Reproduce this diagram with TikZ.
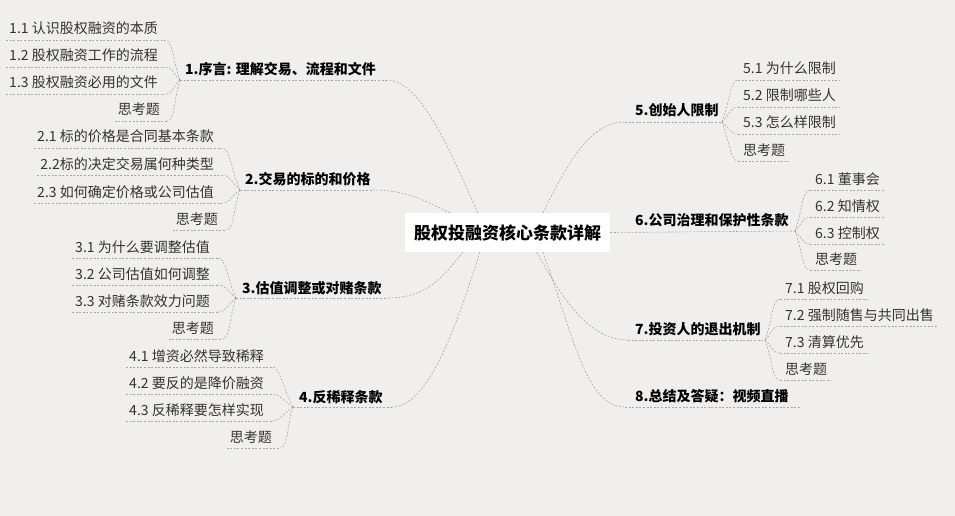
\documentclass[tikz,border=0pt]{standalone}
\usepackage{fontspec}
\setmainfont{Noto Sans CJK SC}
\usetikzlibrary{calc}
\definecolor{bgc}{HTML}{F1EFED}
\definecolor{lnc}{HTML}{A8A8A8}
\definecolor{txc}{HTML}{333333}
\tikzset{
  conn/.style={draw=lnc, line width=0.6pt, dash pattern=on 2pt off 1.6pt},
  leaf/.style={font=\fontsize{14}{14}\selectfont, text=txc, inner sep=0pt},
  branch/.style={font=\bfseries\fontsize{14}{14}\selectfont, text=black, inner sep=0pt},
  rootbox/.style={fill=white, font=\bfseries\fontsize{17}{17}\selectfont, text=black,
    minimum width=205pt, minimum height=39pt, inner sep=0pt},
}
\begin{document}
\begin{tikzpicture}[x=1pt,y=-1pt]
\fill[bgc] (0,0) rectangle (955,516);
\useasboundingbox (0,0) rectangle (955,516);

% root
\node[rootbox] (root) at (507.5,232.5) {股权投融资核心条款详解};
\coordinate (r1) at ([xshift=73pt]root.north west);
\coordinate (r2) at ([xshift=45pt]root.north west);
\coordinate (r5) at ([xshift=138pt]root.north west);
\coordinate (r6) at (root.east);
\coordinate (r3) at ([xshift=58pt]root.south west);
\coordinate (r4) at ([xshift=75pt]root.south west);
\coordinate (r7) at ([xshift=132pt]root.south west);
\coordinate (r8) at ([xshift=138pt]root.south west);

% ---------- branch 1
\node[branch, anchor=base west] (m1) at (185,75) {1.序言: 理解交易、流程和文件};
\coordinate (b1) at (180,80);
\coordinate (e1) at (387,80);
\draw[conn] (b1) -- (e1);
\draw[conn] (r1) .. controls +(-25,-55) and +(35,0) .. (e1);
\node[leaf, anchor=base east] (n11) at (158,34) {1.1 认识股权融资的本质};
\node[leaf, anchor=base east] (n12) at (158,61) {1.2 股权融资工作的流程};
\node[leaf, anchor=base east] (n13) at (158,88) {1.3 股权融资必用的文件};
\node[leaf, anchor=base east] (n14) at (160,115) {思考题};
\foreach \n in {n11,n12,n13,n14}{
  \draw[conn] ([xshift=-3pt,yshift=-6pt]\n.base west) -- ([xshift=7pt,yshift=-6pt]\n.base east) coordinate (u\n);
  \draw[conn] (b1) .. controls ($(b1)!0.5!(u\n)$) and +(8,0) .. (u\n);
}

% ---------- branch 2
\node[branch, anchor=base west] (m2) at (245,184) {2.交易的标的和价格};
\coordinate (b2) at (240,190);
\coordinate (e2) at (372,190);
\draw[conn] (b2) -- (e2);
\draw[conn] (r2) .. controls +(-25,-12) and +(35,0) .. (e2);
\node[leaf, anchor=base east] (n21) at (214,142) {2.1 标的价格是合同基本条款};
\node[leaf, anchor=base east] (n22) at (214,169) {2.2标的决定交易属何种类型};
\node[leaf, anchor=base east] (n23) at (214,197) {2.3 如何确定价格或公司估值};
\node[leaf, anchor=base east] (n24) at (218,224) {思考题};
\foreach \n in {n21,n22,n23,n24}{
  \draw[conn] ([xshift=-3pt,yshift=-6pt]\n.base west) -- ([xshift=8pt,yshift=-6pt]\n.base east) coordinate (u\n);
  \draw[conn] (b2) .. controls ($(b2)!0.5!(u\n)$) and +(8,0) .. (u\n);
}

% ---------- branch 3
\node[branch, anchor=base west] (m3) at (242,293) {3.估值调整或对赌条款};
\coordinate (b3) at (236,298);
\coordinate (e3) at (387,298);
\draw[conn] (b3) -- (e3);
\draw[conn] (r3) .. controls +(-20,25) and +(40,0) .. (e3);
\node[leaf, anchor=base east] (n31) at (210,252) {3.1 为什么要调整估值};
\node[leaf, anchor=base east] (n32) at (210,279) {3.2 公司估值如何调整};
\node[leaf, anchor=base east] (n33) at (210,306) {3.3 对赌条款效力问题};
\node[leaf, anchor=base east] (n34) at (214,333) {思考题};
\foreach \n in {n31,n32,n33,n34}{
  \draw[conn] ([xshift=-3pt,yshift=-6pt]\n.base west) -- ([xshift=8pt,yshift=-6pt]\n.base east) coordinate (u\n);
  \draw[conn] (b3) .. controls ($(b3)!0.5!(u\n)$) and +(8,0) .. (u\n);
}

% ---------- branch 4
\node[branch, anchor=base west] (m4) at (299,402) {4.反稀释条款};
\coordinate (b4) at (293,407);
\coordinate (e4) at (392,407);
\draw[conn] (b4) -- (e4);
\draw[conn] (r4) .. controls +(-25,80) and +(35,0) .. (e4);
\node[leaf, anchor=base east] (n41) at (264,361) {4.1 增资必然导致稀释};
\node[leaf, anchor=base east] (n42) at (264,388) {4.2 要反的是降价融资};
\node[leaf, anchor=base east] (n43) at (264,415) {4.3 反稀释要怎样实现};
\node[leaf, anchor=base east] (n44) at (272,442) {思考题};
\foreach \n in {n41,n42,n43,n44}{
  \draw[conn] ([xshift=-3pt,yshift=-6pt]\n.base west) -- ([xshift=8pt,yshift=-6pt]\n.base east) coordinate (u\n);
  \draw[conn] (b4) .. controls ($(b4)!0.5!(u\n)$) and +(8,0) .. (u\n);
}

% ---------- branch 5
\node[branch, anchor=base west] (m5) at (635,116) {5.创始人限制};
\coordinate (s5) at (625,122);
\coordinate (b5) at (722,122);
\draw[conn] (s5) -- (b5);
\draw[conn] (r5) .. controls +(25,-50) and +(-35,0) .. (s5);
\node[leaf, anchor=base west] (n51) at (743,74) {5.1 为什么限制};
\node[leaf, anchor=base west] (n52) at (743,101) {5.2 限制哪些人};
\node[leaf, anchor=base west] (n53) at (743,128) {5.3 怎么样限制};
\node[leaf, anchor=base west] (n54) at (743,155) {思考题};
\foreach \n in {n51,n52,n53,n54}{
  \draw[conn] ([xshift=-5pt,yshift=-6pt]\n.base west) coordinate (u\n) -- ([xshift=4pt,yshift=-6pt]\n.base east);
  \draw[conn] (b5) .. controls ($(b5)!0.5!(u\n)$) and +(-8,0) .. (u\n);
}

% ---------- branch 6
\node[branch, anchor=base west] (m6) at (635,225) {6.公司治理和保护性条款};
\coordinate (b6) at (795,231);
\draw[conn] (r6) -- (b6);
\node[leaf, anchor=base west] (n61) at (815,184) {6.1 董事会};
\node[leaf, anchor=base west] (n62) at (815,211) {6.2 知情权};
\node[leaf, anchor=base west] (n63) at (815,238) {6.3 控制权};
\node[leaf, anchor=base west] (n64) at (815,264) {思考题};
\foreach \n in {n61,n62,n63,n64}{
  \draw[conn] ([xshift=-5pt,yshift=-6pt]\n.base west) coordinate (u\n) -- ([xshift=4pt,yshift=-6pt]\n.base east);
  \draw[conn] (b6) .. controls ($(b6)!0.5!(u\n)$) and +(-8,0) .. (u\n);
}

% ---------- branch 7
\node[branch, anchor=base west] (m7) at (635,334) {7.投资人的退出机制};
\coordinate (s7) at (628,340);
\coordinate (b7) at (765,340);
\draw[conn] (s7) -- (b7);
\draw[conn] (r7) .. controls +(25,45) and +(-40,0) .. (s7);
\node[leaf, anchor=base west] (n71) at (785,293) {7.1 股权回购};
\node[leaf, anchor=base west] (n72) at (785,320) {7.2 强制随售与共同出售};
\node[leaf, anchor=base west] (n73) at (785,347) {7.3 清算优先};
\node[leaf, anchor=base west] (n74) at (785,374) {思考题};
\foreach \n in {n71,n72,n73,n74}{
  \draw[conn] ([xshift=-5pt,yshift=-6pt]\n.base west) coordinate (u\n) -- ([xshift=4pt,yshift=-6pt]\n.base east);
  \draw[conn] (b7) .. controls ($(b7)!0.5!(u\n)$) and +(-8,0) .. (u\n);
}

% ---------- branch 8
\node[branch, anchor=base west] (m8) at (635,401) {8.总结及答疑：视频直播};
\coordinate (s8) at (625,407);
\coordinate (b8) at (800,407);
\draw[conn] (s8) -- (b8);
\draw[conn] (r8) .. controls +(30,80) and +(-40,0) .. (s8);
\end{tikzpicture}
\end{document}
